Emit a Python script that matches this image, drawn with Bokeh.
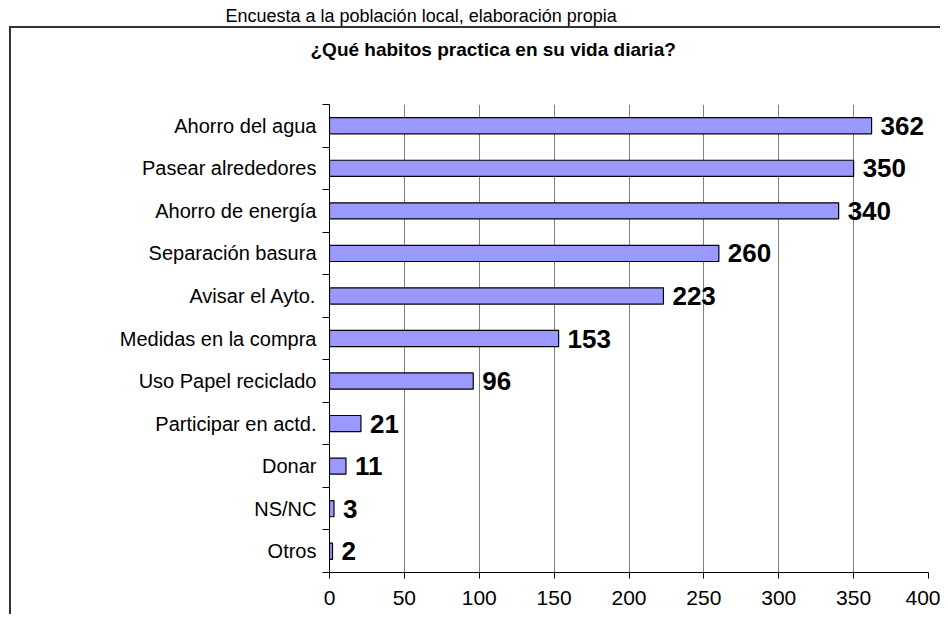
from bokeh.plotting import figure
from bokeh.models import ColumnDataSource, FixedTicker, Range1d, Title
from bokeh.core.properties import value
from bokeh.embed import file_html
from bokeh.resources import INLINE

categories = ["Ahorro del agua", "Pasear alrededores", "Ahorro de energía",
              "Separación basura", "Avisar el Ayto.", "Medidas en la compra",
              "Uso Papel reciclado", "Participar en actd.", "Donar", "NS/NC", "Otros"]
counts = [362, 350, 340, 260, 223, 153, 96, 21, 11, 3, 2]
x_ticks = [0, 50, 100, 150, 200, 250, 300, 350, 400]
title_text = "¿Qué habitos practica en su vida diaria?"
source_text = "Encuesta a la población local, elaboración propia"

n = len(categories)
ypos = [n - i - 0.5 for i in range(n)]
bounds = list(range(n + 1))

src = ColumnDataSource(dict(y=ypos, count=counts,
                            label=[str(c) for c in counts], cat=categories))

p = figure(width=932, height=614, x_range=Range1d(0, 400), y_range=Range1d(0, n),
           output_backend="svg", toolbar_location=None,
           min_border_left=321, min_border_right=12,
           min_border_top=104, min_border_bottom=42)
p.margin = (0, 0, 0, 8)
p.outline_line_color = None
p.background_fill_color = "white"
p.border_fill_color = None
p.styles = {
    "background": "linear-gradient(#333333, #333333) 1px 26px / 100% 2px no-repeat, "
                  "linear-gradient(#333333, #333333) 1px 26px / 2px 100% no-repeat, white"
}

# x axis
p.xaxis.ticker = FixedTicker(ticks=x_ticks)
p.xaxis.major_label_text_font = "Liberation Sans"
p.xaxis.major_label_text_font_size = "21px"
p.xaxis.major_label_text_color = "black"
p.xaxis.major_tick_out = 6
p.xaxis.major_tick_in = 0
p.xaxis.minor_tick_out = 0
p.xaxis.minor_tick_in = 0
p.xaxis.axis_line_color = "black"
p.xaxis.major_tick_line_color = "black"
p.xaxis.major_label_standoff = 12

# y axis
p.yaxis.ticker = FixedTicker(ticks=ypos, minor_ticks=bounds)
p.yaxis.major_label_overrides = {y: c for y, c in zip(ypos, categories)}
p.yaxis.major_tick_out = 0
p.yaxis.major_tick_in = 0
p.yaxis.minor_tick_out = 7
p.yaxis.minor_tick_in = 0
p.yaxis.minor_tick_line_color = "black"
p.yaxis.axis_line_color = "black"
p.yaxis.major_label_text_font = "Liberation Sans"
p.yaxis.major_label_text_font_size = "20px"
p.yaxis.major_label_text_color = "black"
p.yaxis.major_label_standoff = 6

# grid
p.xgrid.ticker = FixedTicker(ticks=x_ticks)
p.xgrid.grid_line_color = "#808080"
p.xgrid.grid_line_width = 1
p.ygrid.grid_line_color = None

p.hbar(y="y", left=0, right="count", height=0.38, source=src,
       fill_color="#9999FF", line_color="black", line_width=1.2)

p.text(x="count", y="y", text="label", source=src, x_offset=9,
       text_baseline="middle", text_align="left",
       text_font=value("Liberation Sans"), text_font_style="bold",
       text_font_size="26px", text_color="black")

# blank spacer between plot area and title
p.add_layout(Title(text=" ", align="left", standoff=21,
                   text_font="Liberation Sans", text_font_size="10px"), "above")
# titles (stacked outward from the plot area)
p.add_layout(Title(text=title_text, align="left", offset=-19, standoff=22,
                   text_font="Liberation Sans", text_font_size="19px",
                   text_font_style="bold", text_color="black"), "above")
p.add_layout(Title(text=source_text, align="left", offset=-104, standoff=0,
                   text_font="Liberation Sans", text_font_size="18px",
                   text_font_style="normal", text_color="black"), "above")

open("out.html", "w").write(file_html(p, INLINE))
